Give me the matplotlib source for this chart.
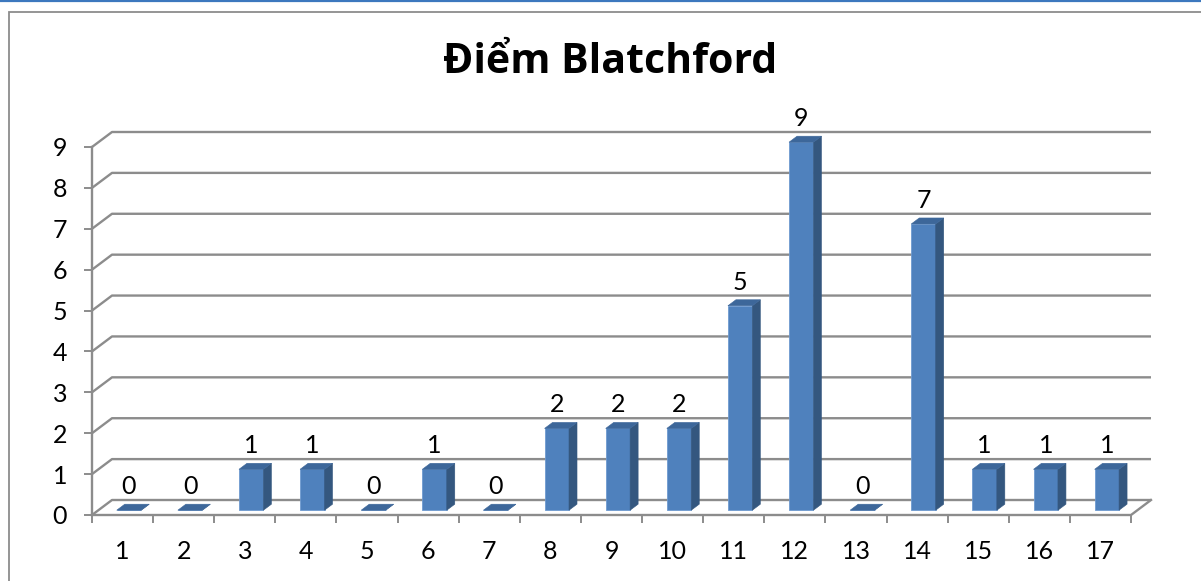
import matplotlib
matplotlib.use("Agg")
import matplotlib.pyplot as plt
from matplotlib.patches import Polygon, Rectangle
from matplotlib.lines import Line2D

plt.rcParams['font.family'] = ['Lato', 'DejaVu Sans']

categories = [str(i) for i in range(1, 18)]
values = [0, 0, 1, 1, 0, 1, 0, 2, 2, 2, 5, 9, 0, 7, 1, 1, 1]
yticks = list(range(0, 10))
title = "Điểm Blatchford"

W, H, DPI = 1201, 581, 100
fig = plt.figure(figsize=(W / DPI, H / DPI), dpi=DPI)
fig.patch.set_facecolor('white')

# frame decoration
fig.add_artist(Line2D([0, 1], [1 - 1.2 / H, 1 - 1.2 / H], transform=fig.transFigure,
                      color='#3C78BE', lw=1.6))
fig.add_artist(Rectangle((8.5 / W, -0.1), 1.2, 1 - 12.5 / H + 0.1, transform=fig.transFigure,
                         fill=False, ec='#8C8C8C', lw=1.3))

left, right = 92 / W, 1131 / W
bottom, top = 1 - 515 / H, 1 - 147 / H
ax = fig.add_axes([left, bottom, right - left, top - bottom])
n = len(categories)
ax.set_xlim(0.5, n + 0.5)
ax.set_ylim(0, 9)
for s in ax.spines.values():
    s.set_visible(False)
ax.set_facecolor('none')

# depth of the 3D box in data units
px_x = (right - left) * W / n
px_y = (top - bottom) * H / 9
DX, DY = 20 / px_x, 15 / px_y

grid_c = '#8C8C8C'
glw = 1.7
x0, x1 = 0.5, n + 0.5
for y in yticks:
    ax.plot([x0, x0 + DX, x1 + DX], [y, y + DY, y + DY], color=grid_c, lw=glw,
            clip_on=False, zorder=1, solid_capstyle='butt')
# floor
ax.plot([x0, x1, x1 + DX], [0, 0, DY], color=grid_c, lw=glw, clip_on=False, zorder=1)
ax.plot([x0, x0], [0, 9], color=grid_c, lw=glw, clip_on=False, zorder=1)

# bars (front face sits at depth f0, back at depth f1)
bw = 0.40
f0, f1 = 0.32, 0.72
front_c, side_c, top_c = '#4F81BD', '#34577F', '#3D679A'
for i, v in enumerate(values):
    c = i + 1
    ox, oy = f0 * DX, f0 * DY
    dx, dy = (f1 - f0) * DX, (f1 - f0) * DY
    xa = c - bw / 2 + ox
    xb = c + bw / 2 + ox
    bot = oy
    topv = v + oy
    front = Polygon([(xa, bot), (xb, bot), (xb, topv), (xa, topv)], closed=True,
                    fc=front_c, ec='#6E9AD0', lw=0.6, zorder=3, clip_on=False)
    side = Polygon([(xb, bot), (xb + dx, bot + dy), (xb + dx, topv + dy), (xb, topv)],
                   closed=True, fc=side_c, ec=side_c, lw=0.4, zorder=3, clip_on=False)
    topf = Polygon([(xa, topv), (xb, topv), (xb + dx, topv + dy), (xa + dx, topv + dy)],
                   closed=True, fc=top_c, ec=top_c, lw=0.4, zorder=3, clip_on=False)
    for p in (front, side, topf):
        ax.add_patch(p)
    ax.annotate(str(v), xy=((xa + xb) / 2, topv), xytext=(0, 17), textcoords='offset points',
                ha='center', va='center', fontsize=18, color='black', zorder=5,
                annotation_clip=False)

# y axis
ax.set_yticks(yticks)
ax.set_yticklabels([str(t) for t in yticks])
ax.tick_params(axis='y', length=6, width=1.4, color=grid_c, pad=12, labelsize=18)

# x axis: labels at centers, ticks at boundaries
ax.set_xticks(range(1, n + 1))
ax.set_xticklabels(categories)
ax.set_xticks([k + 0.5 for k in range(0, n + 1)], minor=True)
ax.tick_params(axis='x', which='major', length=0, pad=18, labelsize=18)
ax.tick_params(axis='x', which='minor', length=6, width=1.4, color=grid_c)

fig.text(610 / W, 1 - 73 / H, title, ha='center', va='baseline', fontsize=29.5,
         fontweight='bold', color='black', family=['Open Sans', 'DejaVu Sans'])

fig.savefig('out.png', dpi=DPI)
